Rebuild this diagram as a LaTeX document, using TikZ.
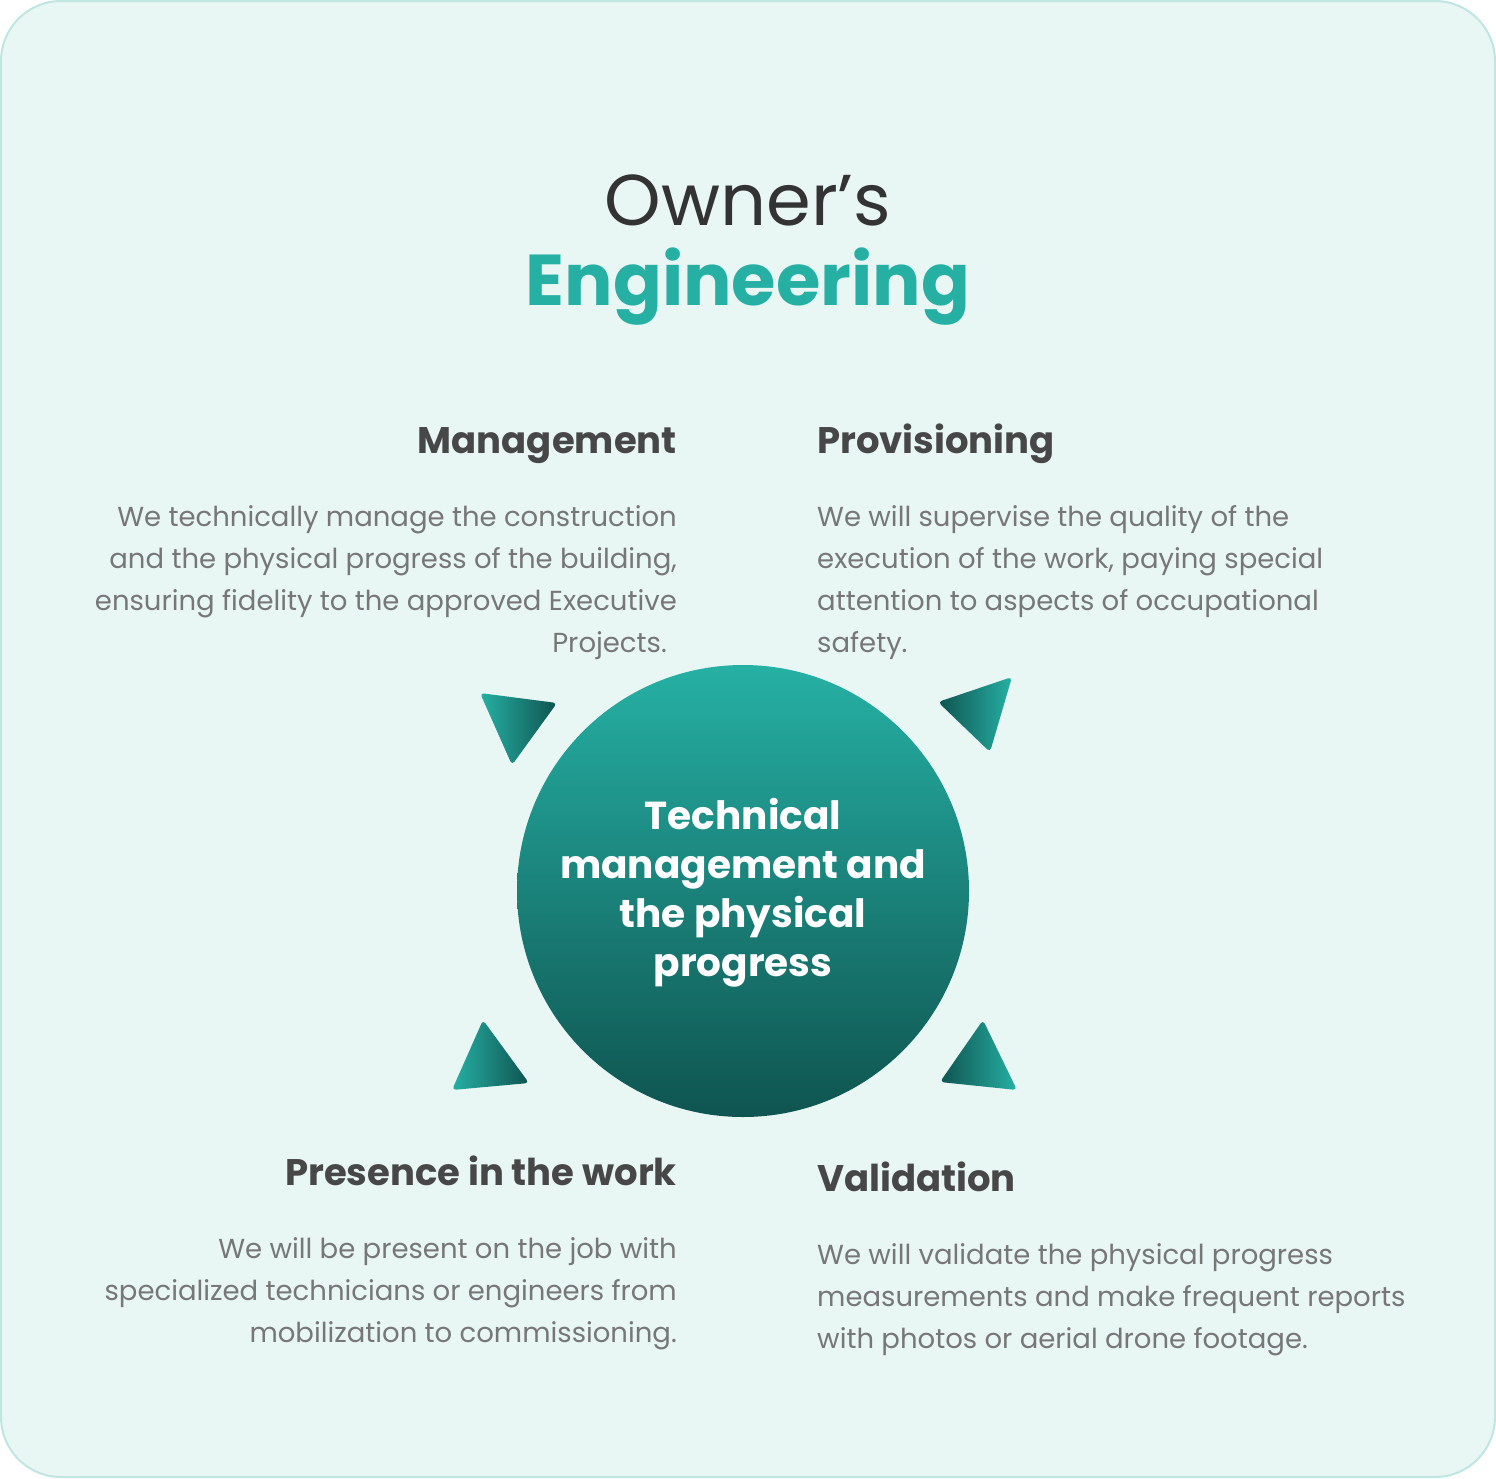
\documentclass[tikz,border=0pt]{standalone}
\usepackage{fontspec}
\setmainfont{Poppins}
\definecolor{bg}{HTML}{E8F6F4}
\definecolor{bord}{HTML}{BFE6E0}
\definecolor{teal}{HTML}{26B0A4}
\definecolor{dteal}{HTML}{0F5450}
\definecolor{dark}{HTML}{333333}
\definecolor{body}{HTML}{777777}
\begin{document}
\begin{tikzpicture}[x=1pt,y=-1pt,
  head/.style={font=\fontsize{37}{44}\selectfont\bfseries, text=dark!90!white, inner sep=0},
  txt/.style={font=\fontsize{27.5}{42}\selectfont, text=body, inner sep=0},
  tri/.style={rounded corners=4pt}]
\useasboundingbox (0,0) rectangle (1496,1478);
\draw[bord, fill=bg, line width=2pt, rounded corners=60pt] (1,1) rectangle (1495,1477);
\node[font=\fontsize{72}{80}\selectfont, text=dark, anchor=base] (t1) at (748,225) {Owner\char"0027 s};
\node[font=\fontsize{72}{80}\selectfont\bfseries, text=teal, anchor=base] (t2) at (748,305) {Engineering};
% circle
\shade[top color=teal, bottom color=dteal] (743,891) circle (226);
\node[font=\fontsize{39}{49}\selectfont\bfseries, text=white, align=center] (c) at (743,893) {Technical\\management and\\the physical\\progress};
% triangles
\shade[tri, left color=teal, right color=dteal] (480,693) -- (557,703) -- (512,765) -- cycle;
\shade[tri, left color=dteal, right color=teal] (1012,677) -- (938,702) -- (990,752) -- cycle;
\shade[tri, left color=teal, right color=dteal] (483,1020) -- (452,1090) -- (529,1083) -- cycle;
\shade[tri, left color=dteal, right color=teal] (983,1020) -- (940,1082) -- (1017,1090) -- cycle;
% Management
\node[head, anchor=base east] (h1) at (677,453) {Management};
\node[txt, anchor=base east] (b1a) at (677,526) {We technically manage the construction};
\node[txt, anchor=base east] (b1b) at (677,568) {and the physical progress of the building,};
\node[txt, anchor=base east] (b1c) at (677,610) {ensuring fidelity to the approved Executive};
\node[txt, anchor=base east] (b1d) at (667,652) {Projects.};
% Provisioning
\node[head, anchor=base west] (h2) at (817,453) {Provisioning};
\node[txt, anchor=base west] (b2) at (817,526) {We will supervise the quality of the};
\node[txt, anchor=base west] (b2b) at (817,568) {execution of the work, paying special};
\node[txt, anchor=base west] (b2c) at (817,610) {attention to aspects of occupational};
\node[txt, anchor=base west] (b2d) at (817,652) {safety.};
% Presence
\node[head, anchor=base east] (h3) at (677,1185) {Presence in the work};
\node[txt, anchor=base east] (b3a) at (677,1258) {We will be present on the job with};
\node[txt, anchor=base east] (b3b) at (677,1300) {specialized technicians or engineers from};
\node[txt, anchor=base east] (b3c) at (677,1342) {mobilization to commissioning.};
% Validation
\node[head, anchor=base west] (h4) at (817,1191) {Validation};
\node[txt, anchor=base west] (b4a) at (817,1264) {We will validate the physical progress};
\node[txt, anchor=base west] (b4b) at (817,1306) {measurements and make frequent reports};
\node[txt, anchor=base west] (b4c) at (817,1348) {with photos or aerial drone footage.};
\end{tikzpicture}
\end{document}
